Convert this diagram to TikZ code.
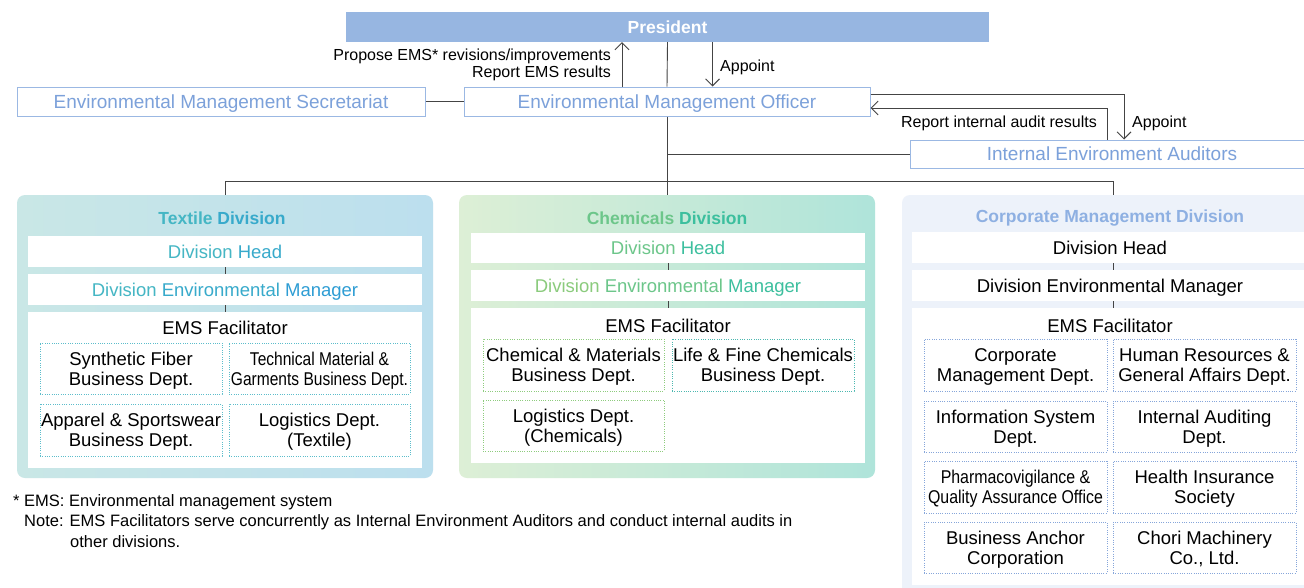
\documentclass[tikz,border=0pt]{standalone}
\usepackage{fontspec}
\setmainfont{Liberation Sans}
\usepackage{graphicx}
\usetikzlibrary{arrows.meta}
\definecolor{presblue}{HTML}{97B6E1}
\definecolor{lineblue}{HTML}{9BB8E3}
\definecolor{txtblue}{HTML}{7CA1DA}
\definecolor{texL}{HTML}{C9E7E6}
\definecolor{texR}{HTML}{BCDFEE}
\definecolor{chemL}{HTML}{DDEFD6}
\definecolor{chemR}{HTML}{AFE4DA}
\definecolor{corpbg}{HTML}{EDF2FA}
\definecolor{texA}{HTML}{45B6C4}
\definecolor{texB}{HTML}{38AACB}
\definecolor{texC}{HTML}{2E9DD4}
\definecolor{chemA}{HTML}{8BCB7D}
\definecolor{chemB}{HTML}{6CC68A}
\definecolor{chemC}{HTML}{3CBF9E}
\definecolor{texdot}{HTML}{5CBDCB}
\definecolor{chemdotL}{HTML}{8ECC7E}
\definecolor{chemdotR}{HTML}{4CB8B0}
\definecolor{corpdot}{HTML}{86A6DA}
\definecolor{corptitle}{HTML}{8EB0E2}
\definecolor{conncol}{HTML}{444444}
\begin{document}
\begin{tikzpicture}[x=1pt,y=-1pt,
  topbox/.style={draw=lineblue, line width=1pt, fill=white, text=txtblue, font=\fontsize{19}{22}\selectfont, inner sep=0pt, text depth=0pt},
  presbox/.style={fill=presblue, text=white, font=\fontsize{17.5}{20}\selectfont\bfseries, inner sep=0pt, text depth=0pt},
  divbox/.style={rounded corners=8pt, inner sep=0pt},
  whitebox/.style={fill=white, inner sep=0pt, font=\fontsize{18.5}{21}\selectfont, text depth=0pt},
  divtitle/.style={font=\fontsize{17.5}{20}\selectfont\bfseries, inner sep=0pt, text depth=0pt},
  dept/.style={draw, dash pattern=on 1pt off 1.3pt, line width=0.8pt, inner sep=0pt, align=center, font=\fontsize{18.5}{20}\selectfont, text depth=-1.5pt},
  lbl/.style={font=\fontsize{16}{17}\selectfont, inner sep=0pt},
  conn/.style={draw=conncol, line width=0.9pt},
  arr/.style={conn, -{Straight Barb[length=7pt,width=14pt,line width=0.9pt]}},
  notetxt/.style={font=\fontsize{16.5}{18}\selectfont, inner sep=0pt, anchor=west}
]
\useasboundingbox (0,0) rectangle (1304,587);
\fill[white] (0,0) rectangle (1304,587);
\clip (0,0) rectangle (1304,587);

% top level
\node[presbox, minimum width=643pt, minimum height=30pt] (pres) at (667.5,27) {President};
\node[topbox, minimum width=408pt, minimum height=29pt] (sec) at (221,101.5) {Environmental Management Secretariat};
\node[topbox, minimum width=406pt, minimum height=29pt] (emo) at (667,101.5) {Environmental Management Officer};
\node[topbox, minimum width=404pt, minimum height=28pt] (aud) at (1112,154) {Internal Environment Auditors};

% labels
\node[lbl, anchor=east, align=right] (lprop) at (611,64.5) {Propose EMS* revisions/improvements\\Report EMS results};
\node[lbl, anchor=west] (lapp1) at (720,67) {Appoint};
\node[lbl, anchor=east] (lrep) at (1097,123) {Report internal audit results};
\node[lbl, anchor=west] (lapp2) at (1132,123) {Appoint};

% divisions
\node[divbox, left color=texL, right color=texR, minimum width=416pt, minimum height=283pt] (tex) at (225,336.5) {};
\node[divbox, left color=chemL, right color=chemR, minimum width=416pt, minimum height=283pt] (chem) at (667,336.5) {};
\node[divbox, fill=corpbg, minimum width=422pt, minimum height=405pt] (corp) at (1113,397.5) {};

% Textile
\node[divtitle, text=texB] (textitle) at (222,218) {\textcolor{texA}{Textile} \textcolor{texB}{Division}};
\node[whitebox, minimum width=394pt, minimum height=31pt] (texdh) at (225,251.5) {\textcolor{texA}{Division} \textcolor{texB}{Head}};
\node[whitebox, minimum width=394pt, minimum height=31pt] (texdem) at (225,289.5) {\textcolor{texA}{Division} \textcolor{texB}{Environmental} \textcolor{texC}{Manager}};
\node[whitebox, minimum width=394pt, minimum height=156pt] (texems) at (225,390) {};
\node[whitebox, fill=none] (texfac) at (225,328) {EMS Facilitator};
\node[dept, draw=texdot, minimum width=182pt, minimum height=51pt] (t1) at (131,368.5) {Synthetic Fiber\\Business Dept.};
\node[dept, draw=texdot, minimum width=181pt, minimum height=51pt] (t2) at (319.5,368.5) {\scalebox{0.84}[1]{Technical Material \&}\\\scalebox{0.84}[1]{Garments Business Dept.}};
\node[dept, draw=texdot, minimum width=182pt, minimum height=52pt] (t3) at (131,430) {Apparel \& Sportswear\\Business Dept.};
\node[dept, draw=texdot, minimum width=181pt, minimum height=52pt] (t4) at (319.5,430) {Logistics Dept.\\(Textile)};

% Chemicals
\node[divtitle] (chemtitle) at (667,218) {\textcolor{chemB}{Chemicals} \textcolor{chemC}{Division}};
\node[whitebox, minimum width=394pt, minimum height=30pt] (chemdh) at (668,248) {\textcolor{chemB}{Division} \textcolor{chemC}{Head}};
\node[whitebox, minimum width=394pt, minimum height=31pt] (chemdem) at (668,285.5) {\textcolor{chemA}{Division} \textcolor{chemB}{Environmental} \textcolor{chemC}{Manager}};
\node[whitebox, minimum width=394pt, minimum height=155pt] (chemems) at (668,385.5) {};
\node[whitebox, fill=none] (chemfac) at (668,326) {EMS Facilitator};
\node[dept, draw=chemdotL, minimum width=181pt, minimum height=52pt] (c1) at (573.5,365) {Chemical \& Materials\\Business Dept.};
\node[dept, draw=chemdotR, minimum width=182pt, minimum height=52pt] (c2) at (763,365) {Life \& Fine Chemicals\\Business Dept.};
\node[dept, draw=chemdotL, minimum width=181pt, minimum height=51pt] (c3) at (573.5,425.5) {Logistics Dept.\\(Chemicals)};

% Corporate
\node[divtitle, text=corptitle] (corptitle) at (1110,216) {Corporate Management Division};
\node[whitebox, minimum width=402pt, minimum height=31pt] (corpdh) at (1113,247.5) {};
\node[whitebox, fill=none] (corpdht) at (1110,247.5) {Division Head};
\node[whitebox, minimum width=402pt, minimum height=31pt] (corpdem) at (1113,285.5) {};
\node[whitebox, fill=none] (corpdemt) at (1110,285.5) {Division Environmental Manager};
\node[whitebox, minimum width=402pt, minimum height=277pt] (corpems) at (1113,446.5) {};
\node[whitebox, fill=none] (corpfac) at (1110,326) {EMS Facilitator};
\node[dept, draw=corpdot, minimum width=183pt, minimum height=52pt] (p1) at (1015.5,365) {Corporate\\Management Dept.};
\node[dept, draw=corpdot, minimum width=183pt, minimum height=52pt] (p2) at (1204.5,365) {Human Resources \&\\General Affairs Dept.};
\node[dept, draw=corpdot, minimum width=183pt, minimum height=51pt] (p3) at (1015.5,426.5) {Information System\\Dept.};
\node[dept, draw=corpdot, minimum width=183pt, minimum height=51pt] (p4) at (1204.5,426.5) {Internal Auditing\\Dept.};
\node[dept, draw=corpdot, minimum width=183pt, minimum height=52pt] (p5) at (1015.5,487) {\scalebox{0.86}[1]{Pharmacovigilance \&}\\\scalebox{0.86}[1]{Quality Assurance Office}};
\node[dept, draw=corpdot, minimum width=183pt, minimum height=52pt] (p6) at (1204.5,487) {Health Insurance\\Society};
\node[dept, draw=corpdot, minimum width=183pt, minimum height=51pt] (p7) at (1015.5,547.5) {Business Anchor\\Corporation};
\node[dept, draw=corpdot, minimum width=183pt, minimum height=51pt] (p8) at (1204.5,547.5) {Chori Machinery\\Co., Ltd.};

% notes
\node[notetxt] (n1) at (13,502) {* EMS: Environmental management system};
\node[notetxt] (n2) at (24,522) {Note: EMS Facilitators serve concurrently as Internal Environment Auditors and conduct internal audits in};
\node[notetxt] (n3) at (70,542) {other divisions.};

% connectors
\draw[conn] (pres.south) -- (emo.north);
\draw[conn] (emo.south) -- (chem.north);
\draw[conn] (sec.east) -- (emo.west);
\draw[conn] (aud.west -| emo.south) -- (aud.west);
\draw[conn] (tex.north) -- ++(0,-13) -| (corp.north);
\coordinate (up) at ([xshift=-45pt]emo.north);
\draw[arr] (up) -- (up |- pres.south);
\coordinate (dn) at ([xshift=45pt]pres.south);
\draw[arr] (dn) -- (dn |- emo.north);
\draw[arr] ([yshift=7.5pt]emo.east) -| ([xshift=12pt]aud.north);
\draw[arr] ([xshift=-5pt]aud.north) |- ([yshift=-6.5pt]emo.east);
% inner connectors
\draw[conn] (texdh.south) -- (texdem.north);
\draw[conn] (texdem.south) -- (texems.north);
\draw[conn] (chemdh.south) -- (chemdem.north);
\draw[conn] (chemdem.south) -- (chemems.north);
\draw[conn] (corpdh.south) -- (corpdem.north);
\draw[conn] (corpdem.south) -- (corpems.north);
\end{tikzpicture}
\end{document}
